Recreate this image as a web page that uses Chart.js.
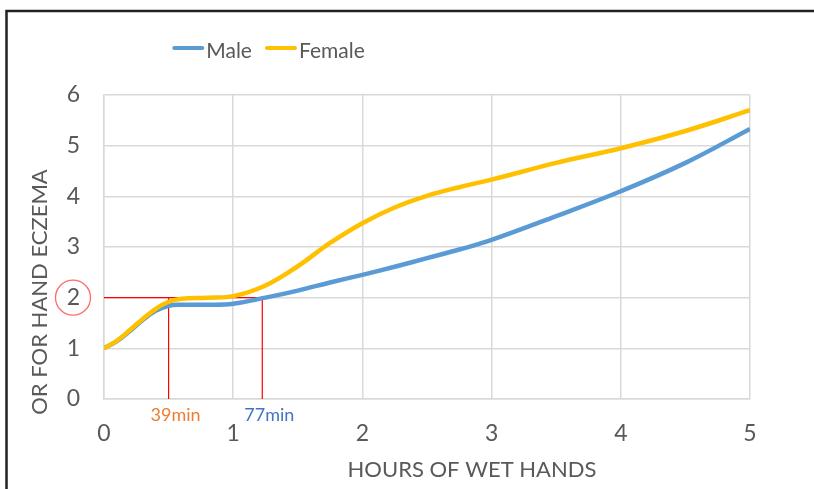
<!DOCTYPE html>
<html>
<head>
<meta charset="utf-8">
<script src="https://cdn.jsdelivr.net/npm/chart.js@4.4.1/dist/chart.umd.min.js"></script>
<style>
html, body { margin: 0; padding: 0; background: #fff; overflow: hidden; }
#wrap { position: absolute; left: 0; top: 0; width: 814px; height: 489px; }
</style>
</head>
<body>
<div id="wrap"><canvas id="chart" width="814" height="489"></canvas></div>
<script>
// hours of wet hands (x) and odds ratio for hand eczema (y)
var hours  = [0, 0.1, 0.2, 0.3, 0.4, 0.5, 0.6, 0.8, 1.0, 1.25, 1.5, 1.75, 2.0, 2.25, 2.5, 2.75, 3.0, 3.5, 4.0, 4.5, 5.0];
var male   = [1.0, 1.14, 1.34, 1.56, 1.74, 1.84, 1.86, 1.86, 1.88, 2.0, 2.14, 2.30, 2.45, 2.61, 2.78, 2.95, 3.14, 3.61, 4.10, 4.66, 5.33];
var female = [1.0, 1.15, 1.36, 1.58, 1.78, 1.92, 1.98, 2.0, 2.03, 2.24, 2.62, 3.08, 3.47, 3.78, 4.01, 4.18, 4.33, 4.66, 4.95, 5.29, 5.7];

var seriesNames = ["Male", "Female"];
var xTicks = [0, 1, 2, 3, 4, 5];
var yTicks = [0, 1, 2, 3, 4, 5, 6];

// OR = 2 threshold and where each curve crosses it
var thresholdOR = 2;
var crossHours  = [0.5, 1.225];
var crossLabels = ["39min", "77min"];

var FONT = "Lato, 'Noto Sans', sans-serif";
var GREY = "#595959";

function toPoints(xs, ys) {
    return xs.map(function(x, i) { return { x: x, y: ys[i] }; });
}

var redLine = {
    borderColor: "#ff0000",
    borderWidth: 1.2,
    pointRadius: 0,
    tension: 0,
    order: 10
};

var datasets = [
    {
        label: seriesNames[0],
        data: toPoints(hours, male),
        borderColor: "#5b9bd5",
        backgroundColor: "#5b9bd5",
        borderWidth: 4.5,
        pointRadius: 0,
        tension: 0.4,
        order: 1
    },
    {
        label: seriesNames[1],
        data: toPoints(hours, female),
        borderColor: "#ffc000",
        backgroundColor: "#ffc000",
        borderWidth: 4.5,
        pointRadius: 0,
        tension: 0.4,
        order: 0
    },
    Object.assign({ label: "", data: [{ x: 0, y: thresholdOR }, { x: crossHours[1], y: thresholdOR }, { x: crossHours[1], y: 0 }] }, redLine),
    Object.assign({ label: "", data: [{ x: crossHours[0], y: 0 }, { x: crossHours[0], y: thresholdOR }] }, redLine)
];

// outer frame (only top and left edges are inside the picture)
var frame = {
    id: "frame",
    beforeDraw: function(chart) {
        var ctx = chart.ctx;
        ctx.save();
        ctx.fillStyle = "#fff";
        ctx.fillRect(0, 0, chart.width, chart.height);
        ctx.strokeStyle = "#222";
        ctx.lineWidth = 2.5;
        ctx.beginPath();
        ctx.moveTo(6.5, chart.height + 5);
        ctx.lineTo(6.5, 11);
        ctx.lineTo(chart.width + 5, 11);
        ctx.stroke();
        ctx.restore();
    }
};

// legend, axis titles, the circled "2" and the minute labels
var extras = {
    id: "extras",
    afterDraw: function(chart) {
        var ctx = chart.ctx;
        var area = chart.chartArea;
        var xs = chart.scales.x;
        var ys = chart.scales.y;
        ctx.save();

        // legend, centred on the reference's legend block
        ctx.font = "21px " + FONT;
        ctx.textBaseline = "alphabetic";
        ctx.textAlign = "left";
        var lineW = 30, gapText = 3, gapItem = 14;
        var total = 0;
        for (var k = 0; k < 2; k++) {
            total += lineW + gapText + ctx.measureText(chart.data.datasets[k].label).width;
        }
        total += gapItem;
        var lx = 269 - total / 2;
        for (var i = 0; i < 2; i++) {
            var ds = chart.data.datasets[i];
            ctx.strokeStyle = ds.borderColor;
            ctx.lineWidth = 4;
            ctx.lineCap = "round";
            ctx.beginPath();
            ctx.moveTo(lx + 1, 48);
            ctx.lineTo(lx + lineW - 1, 48);
            ctx.stroke();
            ctx.fillStyle = GREY;
            ctx.fillText(ds.label, lx + lineW + gapText, 58);
            lx += lineW + gapText + ctx.measureText(ds.label).width + gapItem;
        }

        // axis titles
        ctx.font = "22px " + FONT;
        ctx.fillStyle = GREY;
        ctx.textAlign = "center";
        ctx.fillText("HOURS OF WET HANDS", area.left + 368, area.bottom + 78);
        ctx.save();
        ctx.translate(area.left - 57, area.bottom - 107);
        ctx.rotate(-Math.PI / 2);
        ctx.fillText("OR FOR HAND ECZEMA", 0, 0);
        ctx.restore();

        // circle around the "2" tick
        ctx.strokeStyle = "#ff6b6b";
        ctx.lineWidth = 1.3;
        ctx.beginPath();
        ctx.arc(area.left - 31, ys.getPixelForValue(thresholdOR), 17.5, 0, Math.PI * 2);
        ctx.stroke();

        // minute labels
        ctx.font = "18px " + FONT;
        var colors = ["#ed7d31", "#4472c4"];
        for (var j = 0; j < crossHours.length; j++) {
            ctx.fillStyle = colors[j];
            ctx.fillText(crossLabels[j], xs.getPixelForValue(crossHours[j]) + 7, area.bottom + 22);
        }
        ctx.restore();
    }
};

new Chart(document.getElementById("chart"), {
    type: "line",
    data: { datasets: datasets },
    plugins: [frame, extras],
    options: {
        responsive: false,
        animation: false,
        layout: { padding: { top: 95, right: 64, left: 0, bottom: 0 } },
        plugins: {
            legend: { display: false },
            tooltip: { enabled: false }
        },
        scales: {
            x: {
                type: "linear",
                min: xTicks[0],
                max: xTicks[xTicks.length - 1],
                afterBuildTicks: function(s) { s.ticks = xTicks.map(function(v) { return { value: v }; }); },
                afterFit: function(s) { s.height = 90; },
                grid: { color: "#d9d9d9", lineWidth: 1.5, drawTicks: false },
                border: { color: "#d9d9d9", width: 1.5 },
                ticks: { color: GREY, font: { family: FONT, size: 23 }, padding: 21 }
            },
            y: {
                min: yTicks[0],
                max: yTicks[yTicks.length - 1],
                afterBuildTicks: function(s) { s.ticks = yTicks.map(function(v) { return { value: v }; }); },
                afterFit: function(s) { s.width = 104; },
                grid: { color: "#d9d9d9", lineWidth: 1.5, drawTicks: false },
                border: { color: "#d9d9d9", width: 1.5 },
                ticks: { color: GREY, font: { family: FONT, size: 23 }, padding: 24 }
            }
        }
    }
});
</script>
</body>
</html>
